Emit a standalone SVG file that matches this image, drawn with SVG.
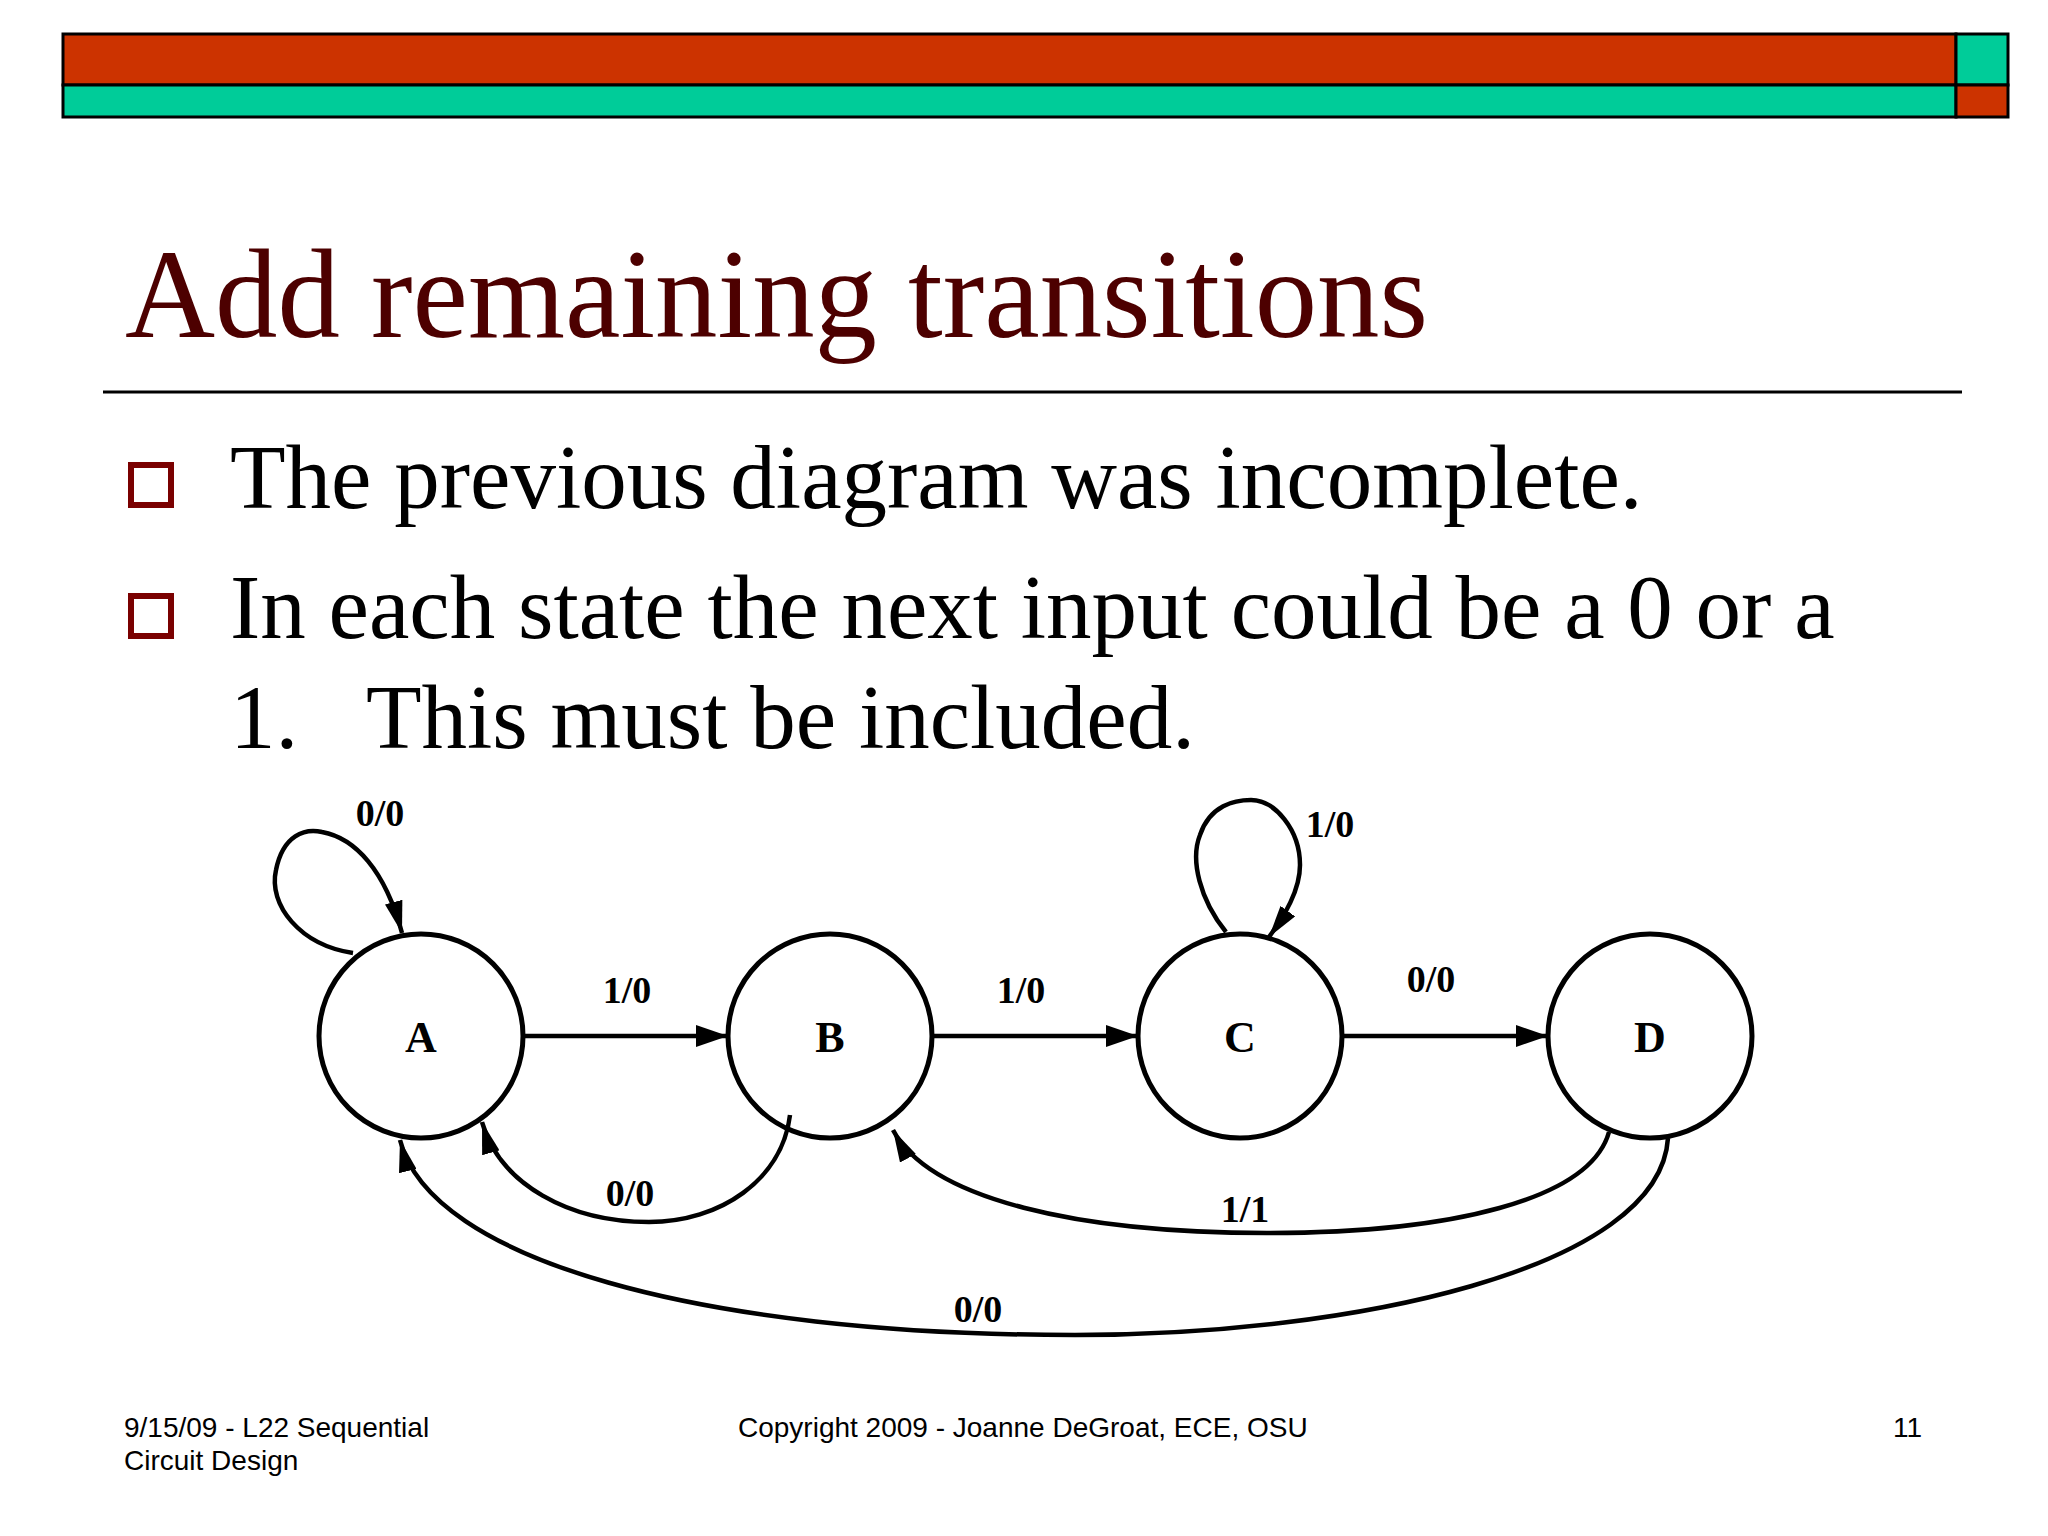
<svg xmlns="http://www.w3.org/2000/svg" width="2048" height="1536" viewBox="0 0 2048 1536">
<defs>
<style>
.bar{stroke:#000;stroke-width:3}
.red{fill:#cc3300}
.grn{fill:#00cc99}
.title{font-family:"Liberation Serif","Times New Roman",serif;font-size:126px;fill:#4d0000}
.body{font-family:"Liberation Serif","Times New Roman",serif;font-size:91px;fill:#000}
.bullet{fill:none;stroke:#7a0000;stroke-width:6}
.node circle{fill:none;stroke:#000;stroke-width:5}
.node text{font-family:"Liberation Serif","Times New Roman",serif;font-weight:bold;font-size:44px;text-anchor:middle;fill:#000}
.edge{fill:none;stroke:#000;stroke-width:4.5}
.lbl{font-family:"Liberation Serif","Times New Roman",serif;font-weight:bold;font-size:38px;text-anchor:middle;fill:#000}
.foot{font-family:"Liberation Sans",Arial,sans-serif;font-size:28px;fill:#000}
</style>
<marker id="ah" markerUnits="userSpaceOnUse" markerWidth="34" markerHeight="22" refX="32" refY="11" orient="auto">
<path d="M0,0 L32,11 L0,22 Z" fill="#000"/>
</marker>
<marker id="ah2" markerUnits="userSpaceOnUse" markerWidth="34" markerHeight="18" refX="32" refY="9" orient="auto">
<path d="M0,0 L32,9 L0,18 Z" fill="#000"/>
</marker>
</defs>
<rect width="2048" height="1536" fill="#fff"/>
<g id="topbar">
<rect class="bar red" x="63" y="34" width="1893" height="51"/>
<rect class="bar grn" x="63" y="85" width="1893" height="32"/>
<rect class="bar grn" x="1956" y="34" width="52" height="51"/>
<rect class="bar red" x="1956" y="85" width="52" height="32"/>
</g>
<text class="title" x="125" y="337" textLength="1303" lengthAdjust="spacingAndGlyphs">Add remaining transitions</text>
<line x1="103" y1="392" x2="1962" y2="392" stroke="#000" stroke-width="3"/>
<rect class="bullet" x="131" y="465" width="40" height="40"/>
<text class="body" x="230" y="508">The previous diagram was incomplete.</text>
<rect class="bullet" x="131" y="596" width="40" height="40"/>
<text class="body" x="230" y="638">In each state the next input could be a 0 or a</text>
<text class="body" x="230" y="748">1.</text>
<text class="body" x="366" y="748">This must be included.</text>
<g id="connectors">
<path class="edge" marker-end="url(#ah)" d="M523,1036 L728,1036"/>
<path class="edge" marker-end="url(#ah)" d="M933,1036 L1138,1036"/>
<path class="edge" marker-end="url(#ah)" d="M1342,1036 L1548,1036"/>
<path class="edge" marker-end="url(#ah2)" d="M353,953 C300,945 268,905 276,870 C283,835 305,828 322,832 C355,838 385,870 402,933"/>
<path class="edge" marker-end="url(#ah2)" d="M1226,932 C1200,900 1190,860 1200,835 C1210,805 1235,800 1251,800 C1275,800 1300,830 1300,865 C1300,890 1285,915 1269,937"/>
<path class="edge" marker-end="url(#ah2)" d="M790,1115 C782,1180 720,1222 649,1222 C570,1222 500,1185 482,1122"/>
<path class="edge" marker-end="url(#ah2)" d="M1609,1132 C1590,1200 1450,1233 1267,1233 C1080,1233 930,1200 893,1130"/>
<path class="edge" marker-end="url(#ah2)" d="M1668,1138 C1660,1270 1350,1335 1075,1335 C700,1335 430,1260 400,1140"/>
<text class="lbl" x="380" y="826">0/0</text>
<text class="lbl" x="627" y="1003">1/0</text>
<text class="lbl" x="1021" y="1003">1/0</text>
<text class="lbl" x="1330" y="837">1/0</text>
<text class="lbl" x="1431" y="992">0/0</text>
<text class="lbl" x="630" y="1206">0/0</text>
<text class="lbl" x="1245" y="1222">1/1</text>
<text class="lbl" x="978" y="1322">0/0</text>
</g>
<g id="node-A" class="node"><circle cx="421" cy="1036" r="102"/><text x="421" y="1052">A</text></g>
<g id="node-B" class="node"><circle cx="830" cy="1036" r="102"/><text x="830" y="1052">B</text></g>
<g id="node-C" class="node"><circle cx="1240" cy="1036" r="102"/><text x="1240" y="1052">C</text></g>
<g id="node-D" class="node"><circle cx="1650" cy="1036" r="102"/><text x="1650" y="1052">D</text></g>
<text class="foot" x="124" y="1437">9/15/09 - L22 Sequential</text>
<text class="foot" x="124" y="1470">Circuit Design</text>
<text class="foot" x="738" y="1437">Copyright 2009 - Joanne DeGroat, ECE, OSU</text>
<text class="foot" x="1922" y="1437" text-anchor="end">11</text>
</svg>
